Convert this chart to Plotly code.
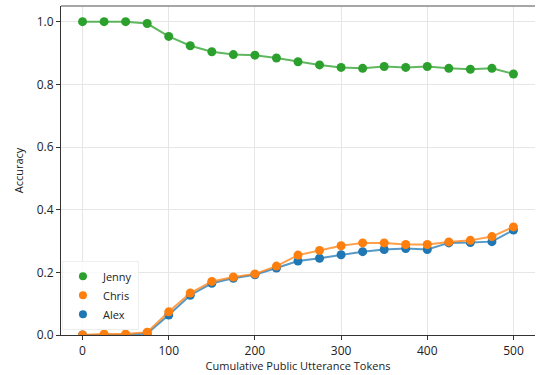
import plotly.graph_objects as go

tokens = [0, 25, 50, 75, 100, 125, 150, 175, 200, 225, 250, 275, 300, 325, 350, 375, 400, 425, 450, 475, 500]
jenny = [1.0, 1.0, 1.0, 0.994, 0.953, 0.923, 0.904, 0.895, 0.893, 0.884, 0.872, 0.862, 0.854, 0.851, 0.857, 0.854, 0.857, 0.851, 0.848, 0.851, 0.833]
chris = [0.0, 0.003, 0.003, 0.009, 0.074, 0.134, 0.171, 0.185, 0.195, 0.220, 0.255, 0.270, 0.285, 0.294, 0.294, 0.289, 0.289, 0.297, 0.302, 0.314, 0.345]
alex = [0.0, 0.0, 0.0, 0.005, 0.064, 0.127, 0.165, 0.181, 0.192, 0.214, 0.236, 0.245, 0.256, 0.266, 0.273, 0.276, 0.273, 0.294, 0.295, 0.298, 0.335]

x_ticks = [0, 100, 200, 300, 400, 500]
y_ticks = [0.0, 0.2, 0.4, 0.6, 0.8, 1.0]

series = [("Alex", alex, "#1f77b4"), ("Chris", chris, "#ff7f0e"), ("Jenny", jenny, "#2ca02c")]

fig = go.Figure()
for name, vals, col in series:
    fig.add_trace(go.Scatter(
        x=tokens, y=vals, mode="lines", name=name, showlegend=False,
        line=dict(color=col, width=2), opacity=0.75, hoverinfo="skip"))
    fig.add_trace(go.Scatter(
        x=tokens, y=vals, mode="markers", name=name, showlegend=False,
        marker=dict(color=col, size=9, line=dict(width=0))))

for rank, (name, col) in enumerate([("Jenny", "#2ca02c"), ("Chris", "#ff7f0e"), ("Alex", "#1f77b4")]):
    fig.add_trace(go.Scatter(
        x=[None], y=[None], mode="markers", name=name, legendrank=rank + 1,
        marker=dict(color=col, size=8)))

font = "Open Sans, DejaVu Sans, sans-serif"
fig.update_layout(
    width=536, height=375,
    margin=dict(l=61, r=1, t=6, b=40, pad=0),
    plot_bgcolor="white", paper_bgcolor="white",
    font=dict(family=font, size=12, color="#222"),
    legend=dict(x=0.002, y=0.016, xanchor="left", yanchor="bottom",
                bgcolor="rgba(255,255,255,0.8)", bordercolor="#eeeeee", borderwidth=1,
                font=dict(size=11, color="#222"), tracegroupgap=0, itemwidth=30),
    xaxis=dict(range=[-25, 525], tickvals=x_ticks, showgrid=True, gridcolor="#e6e6e6",
               gridwidth=1, zeroline=False, showline=True, linecolor="#333", linewidth=1.2,
               ticks="outside", ticklen=4, tickcolor="#333", automargin=False,
               title=dict(text="Cumulative Public Utterance Tokens", font=dict(size=11), standoff=2)),
    yaxis=dict(range=[0, 1.05], tickvals=y_ticks, tickformat=".1f", showgrid=True,
               gridcolor="#e6e6e6", gridwidth=1, zeroline=False, showline=True,
               linecolor="#333", linewidth=1.2, ticks="outside", ticklen=4, tickcolor="#333",
               automargin=False,
               title=dict(text="Accuracy", font=dict(size=11), standoff=10)),
    shapes=[dict(type="line", xref="paper", yref="paper", x0=0, x1=1, y0=1, y1=1,
                 line=dict(color="#888", width=1.5))],
)

fig.write_html("out.html", config={"displayModeBar": False},
               post_script="document.body.style.margin='0';")
